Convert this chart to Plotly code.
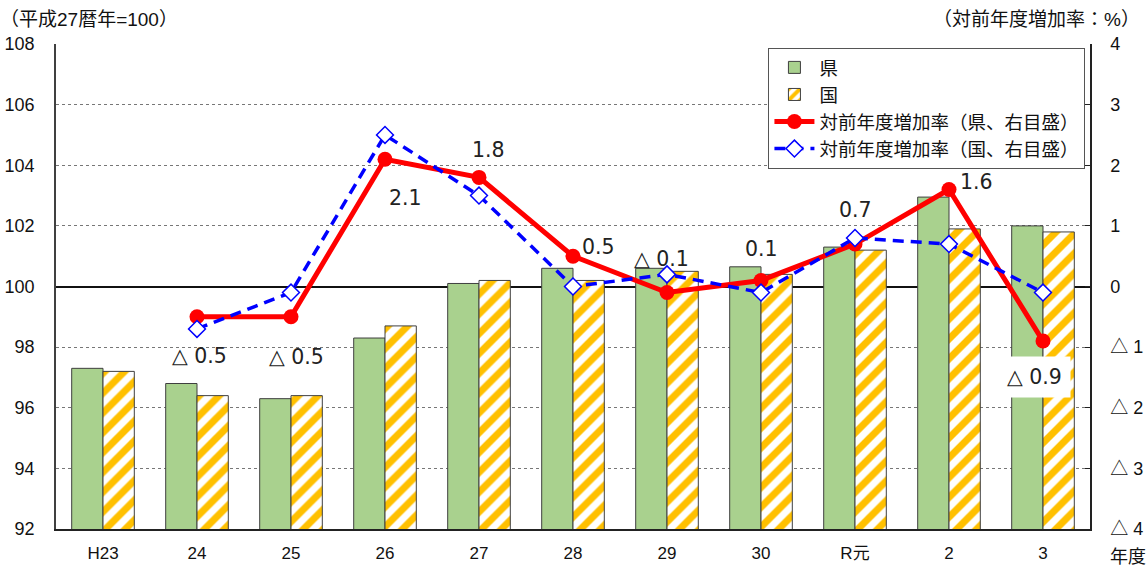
import plotly.graph_objects as go

categories = ["H23", "24", "25", "26", "27", "28", "29", "30", "R元", "2", "3"]
pref_index = [97.3, 96.8, 96.3, 98.3, 100.1, 100.6, 100.6, 100.65, 101.3, 102.95, 102.0]
nat_index = [97.2, 96.4, 96.4, 98.7, 100.2, 100.2, 100.5, 100.4, 101.2, 101.9, 101.8]
rate_categories = ["24", "25", "26", "27", "28", "29", "30", "R元", "2", "3"]
pref_rate = [-0.5, -0.5, 2.1, 1.8, 0.5, -0.1, 0.1, 0.7, 1.6, -0.9]
nat_rate = [-0.7, -0.1, 2.5, 1.5, 0.0, 0.2, -0.1, 0.8, 0.7, -0.1]
left_ticks = [92, 94, 96, 98, 100, 102, 104, 106, 108]
right_tickvals = [-4, -3, -2, -1, 0, 1, 2, 3, 4]
right_ticktext = ["△ 4", "△ 3", "△ 2", "△ 1", "0", "1", "2", "3", "4"]

# label offsets (style only): (xshift, yshift) in px
label_offsets = [(2, -39), (5, -40), (20, -39), (9, 27), (25, 9), (-6, 34), (0, 31), (0, 34), (27, 8), (-9, -36)]

FONT = "Liberation Sans, Noto Sans CJK JP, sans-serif"
LFONT = "DejaVu Sans, Noto Sans CJK JP, sans-serif"

fig = go.Figure()
fig.add_trace(go.Bar(
    x=categories, y=pref_index, name="県",
    marker=dict(color="#A9D18E", line=dict(color="#3F3F3F", width=1)),
))
fig.add_trace(go.Bar(
    x=categories, y=nat_index, name="国",
    marker=dict(color="white", line=dict(color="#3F3F3F", width=1),
                pattern=dict(shape="/", fgcolor="#FFC000", bgcolor="white", size=14,
                             solidity=0.5, fgopacity=1, fillmode="replace")),
))
fig.add_trace(go.Scatter(
    x=rate_categories, y=pref_rate, name="対前年度増加率（県、右目盛）", yaxis="y2",
    mode="lines+markers",
    line=dict(color="#FF0000", width=5),
    marker=dict(symbol="circle", size=15, color="#FF0000"),
))
fig.add_trace(go.Scatter(
    x=rate_categories, y=nat_rate, name="対前年度増加率（国、右目盛）", yaxis="y2",
    mode="lines+markers",
    line=dict(color="#0000FF", width=3.5, dash="11px,7px"),
    marker=dict(symbol="diamond", size=13, color="white", line=dict(color="#0000FF", width=1.5)),
))

annotations = []
for cat, v, (dx, dy) in zip(rate_categories, pref_rate, label_offsets):
    txt = ("△ " if v < 0 else "") + f"{abs(v):.1f}"
    ann = dict(x=categories.index(cat), y=v, xref="x", yref="y2", text=txt, showarrow=False,
               xshift=dx, yshift=dy, font=dict(family=LFONT, size=20.5, color="#222"))
    if cat == "3":
        ann.update(bgcolor="white", borderpad=8)
    annotations.append(ann)

annotations += [
    dict(x=0, y=1, xref="paper", yref="paper", xanchor="left", yanchor="bottom",
         text="（平成27暦年=100）", showarrow=False, xshift=-58, yshift=12,
         font=dict(family=FONT, size=19, color="#111")),
    dict(x=1, y=1, xref="paper", yref="paper", xanchor="right", yanchor="bottom",
         text="（対前年度増加率：%）", showarrow=False, xshift=52, yshift=12,
         font=dict(family=FONT, size=19, color="#111")),
    dict(x=1, y=0, xref="paper", yref="paper", xanchor="center", yanchor="top",
         text="年度", showarrow=False, xshift=38, yshift=-16,
         font=dict(family=FONT, size=18, color="#111")),
]

fig.update_layout(
    width=1148, height=571,
    margin=dict(l=56, r=58, t=44, b=42, autoexpand=False),
    paper_bgcolor="white", plot_bgcolor="white",
    barmode="group", bargap=0.334, bargroupgap=0,
    font=dict(family=FONT, size=17, color="#111"),
    showlegend=True,
    legend=dict(x=0.689, y=0.992, xanchor="left", yanchor="top",
                bgcolor="white", bordercolor="#555", borderwidth=1,
                font=dict(family=FONT, size=18.5, color="#111"),
                tracegroupgap=0, itemwidth=40),
    xaxis=dict(type="category", range=[-0.5, 10.5], showline=True, linecolor="#222", linewidth=1.5,
               ticks="", showgrid=False, tickfont=dict(size=17), ticklabelstandoff=8,
               automargin=False),
    yaxis=dict(range=[92, 108], tickvals=left_ticks, showline=True, linecolor="#404040",
               linewidth=1.5, showgrid=True, gridcolor="#777", griddash="3px,3px",
               gridwidth=1, zeroline=False, ticks="", ticklabelstandoff=16,
               tickfont=dict(size=18), automargin=False),
    yaxis2=dict(range=[-4, 4], tickvals=right_tickvals, ticktext=right_ticktext,
                overlaying="y", side="right", showline=True, linecolor="#222",
                linewidth=1.5, showgrid=False, zeroline=True, zerolinecolor="#111",
                zerolinewidth=1.5, ticks="inside", ticklen=5, tickcolor="#222",
                ticklabelstandoff=15, tickfont=dict(size=18), automargin=False),
    annotations=annotations,
)

fig.write_html("out.html", config={"displayModeBar": False},
               post_script="document.body.style.margin='0';document.body.style.overflow='hidden';")
